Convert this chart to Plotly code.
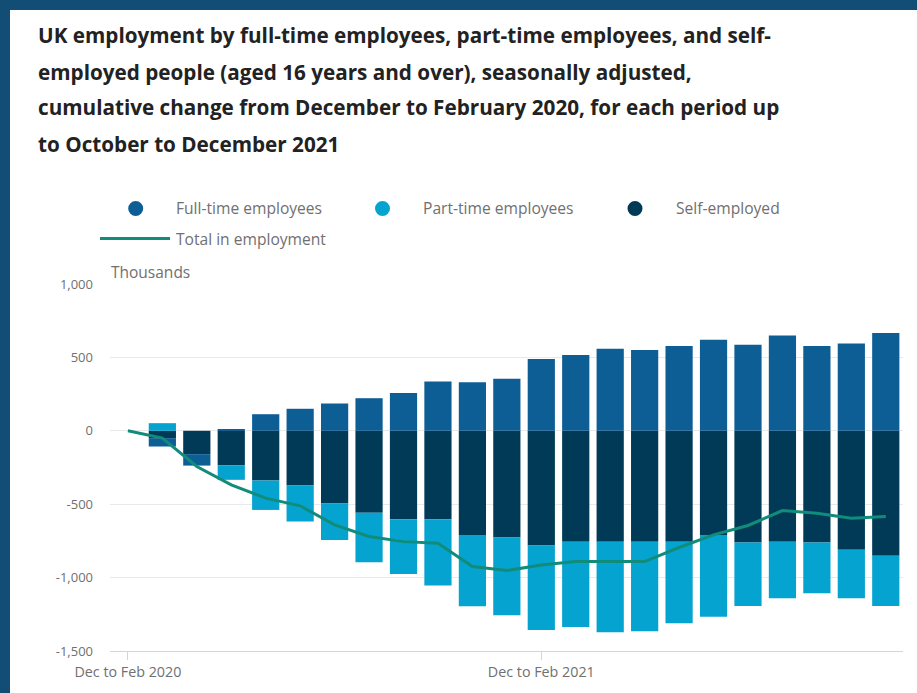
import plotly.graph_objects as go

# Rolling three-month periods, Dec to Feb 2020 .. Oct to Dec 2021
periods = [
    "Dec to Feb 2020", "Jan to Mar 2020", "Feb to Apr 2020", "Mar to May 2020",
    "Apr to Jun 2020", "May to Jul 2020", "Jun to Aug 2020", "Jul to Sep 2020",
    "Aug to Oct 2020", "Sep to Nov 2020", "Oct to Dec 2020", "Nov to Jan 2021",
    "Dec to Feb 2021", "Jan to Mar 2021", "Feb to Apr 2021", "Mar to May 2021",
    "Apr to Jun 2021", "May to Jul 2021", "Jun to Aug 2021", "Jul to Sep 2021",
    "Aug to Oct 2021", "Sep to Nov 2021", "Oct to Dec 2021",
]

# Cumulative change since Dec to Feb 2020, thousands
full_time = [0, -57, -78, 7, 113, 150, 186, 222, 257, 336, 330, 355,
             489, 516, 559, 550, 577, 620, 586, 650, 577, 595, 666]
self_employed = [0, -50, -159, -236, -339, -373, -496, -559, -602, -602, -709, -727,
                 -782, -755, -755, -755, -755, -709, -761, -755, -761, -811, -852]
part_time = [0, 52, 0, -98, -200, -245, -248, -336, -373, -452, -486, -530,
             -575, -581, -618, -611, -556, -557, -432, -386, -346, -330, -341]
total = [0, -50, -243, -368, -459, -511, -641, -720, -755, -766, -925, -952,
         -914, -891, -891, -891, -795, -709, -645, -543, -561, -595, -584]

x_ticks = ["Dec to Feb 2020", "Dec to Feb 2021"]
y_ticks = [-1500, -1000, -500, 0, 500, 1000]
y_tick_text = ["-1,500", "-1,000", "-500", "0", "500", "1,000"]

title_lines = [
    "UK employment by full-time employees, part-time employees, and self-",
    "employed people (aged 16 years and over), seasonally adjusted,",
    "cumulative change from December to February 2020, for each period up",
    "to October to December 2021",
]

C_FULL = "#0e5e96"
C_PART = "#05a4d0"
C_SELF = "#003a57"
C_TOTAL = "#118c7b"
GREY = "#707071"
FONT = "Open Sans"

W, H = 917, 693
L, R, T, B = 110, 903, 284, 651


def px(x):
    return (x - L) / (R - L)


def py(y):
    return (B - y) / (B - T)


fig = go.Figure()

# negative values stack in trace order: self-employed nearest zero
fig.add_trace(go.Bar(x=periods, y=self_employed, name="Self-employed",
                     marker=dict(color=C_SELF, line=dict(width=0)), showlegend=False))
fig.add_trace(go.Bar(x=periods, y=full_time, name="Full-time employees",
                     marker=dict(color=C_FULL, line=dict(width=0)), showlegend=False))
fig.add_trace(go.Bar(x=periods, y=part_time, name="Part-time employees",
                     marker=dict(color=C_PART, line=dict(width=0)), showlegend=False))
fig.add_trace(go.Scatter(x=periods, y=total, name="Total in employment", mode="lines",
                         line=dict(color=C_TOTAL, width=3), showlegend=False))

shapes = [
    # dark frame along the top and left edges
    dict(type="rect", xref="paper", yref="paper", x0=px(0), x1=px(W), y0=py(0), y1=py(10),
         fillcolor="#114d74", line=dict(width=0)),
    dict(type="rect", xref="paper", yref="paper", x0=px(0), x1=px(10), y0=py(0), y1=py(H),
         fillcolor="#114d74", line=dict(width=0)),
]

annotations = []
for i, line in enumerate(title_lines):
    annotations.append(dict(text="<b>" + line + "</b>", xref="paper", yref="paper",
                            x=px(36), y=py(35.5 + 36 * i), xanchor="left", yanchor="middle",
                            showarrow=False, font=dict(family=FONT, size=20.7, color="#222222")))

annotations.append(dict(text="Thousands", xref="paper", yref="paper", x=px(109), y=py(272),
                        xanchor="left", yanchor="middle", showarrow=False,
                        font=dict(family=FONT, size=15.5, color=GREY)))

# legend drawn as markers and labels
legend_items = [
    ("Full-time employees", C_FULL, 135.7, 208.5),
    ("Part-time employees", C_PART, 382.5, 208.5),
    ("Self-employed", C_SELF, 635, 208.5),
]
r = 7.5
for label, color, cx, cy in legend_items:
    shapes.append(dict(type="circle", xref="paper", yref="paper",
                       x0=px(cx - r), x1=px(cx + r), y0=py(cy + r), y1=py(cy - r),
                       fillcolor=color, line=dict(width=0)))
    annotations.append(dict(text=label, xref="paper", yref="paper", x=px(cx + 38.5), y=py(cy),
                            xanchor="left", yanchor="middle", showarrow=False,
                            font=dict(family=FONT, size=15.6, color=GREY)))
shapes.append(dict(type="line", xref="paper", yref="paper", x0=px(100), x1=px(170),
                   y0=py(238.5), y1=py(238.5), line=dict(color=C_TOTAL, width=3)))
annotations.append(dict(text="Total in employment", xref="paper", yref="paper", x=px(173.5),
                        y=py(239), xanchor="left", yanchor="middle", showarrow=False,
                        font=dict(family=FONT, size=15.6, color=GREY)))

fig.update_layout(
    width=W, height=H,
    margin=dict(l=L, r=W - R, t=T, b=H - B, pad=0),
    barmode="relative",
    bargap=0.21,
    paper_bgcolor="white",
    plot_bgcolor="white",
    font=dict(family=FONT, color=GREY),
    shapes=shapes,
    annotations=annotations,
    showlegend=False,
)
fig.update_xaxes(
    type="category", range=[-0.52, 22.5],
    tickvals=x_ticks, ticktext=x_ticks,
    showgrid=False, showline=True, linecolor="#ccd6eb", linewidth=1,
    ticks="outside", ticklen=8, tickcolor="#ccd6eb",
    tickfont=dict(family=FONT, size=14.3, color=GREY),
)
fig.update_yaxes(
    range=[-1500, 1000], tickvals=y_ticks, ticktext=y_tick_text,
    showgrid=True, gridcolor="#e9e9e9", gridwidth=1, zeroline=False,
    showline=False, ticks="", ticklabelstandoff=16,
    tickfont=dict(family=FONT, size=13, color=GREY),
)

fig.write_html("out.html")
